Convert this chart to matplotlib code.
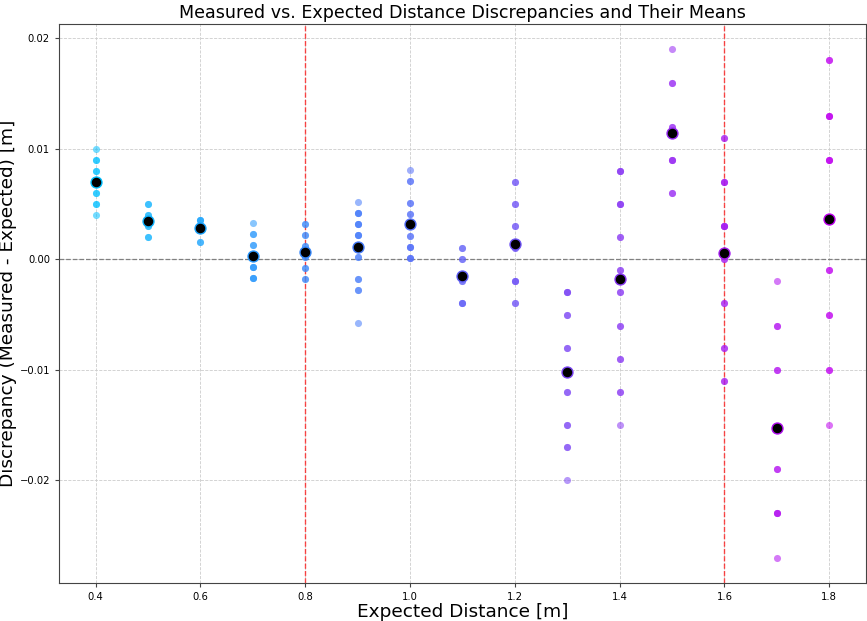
import numpy as np
import matplotlib
matplotlib.use("Agg")
import matplotlib.pyplot as plt
from matplotlib.colors import LinearSegmentedColormap

# 1: measured - expected discrepancies [m] for each expected distance
distances = [0.4, 0.5, 0.6, 0.7, 0.8, 0.9, 1.0, 1.1, 1.2, 1.3, 1.4, 1.5, 1.6, 1.7, 1.8]

d_04 = [0.010, 0.009, 0.009, 0.008, 0.008, 0.007, 0.007, 0.006, 0.006, 0.005, 0.005, 0.004]
d_05 = [0.005, 0.005, 0.004, 0.004, 0.003, 0.003, 0.002, 0.002]
d_06 = [0.0036, 0.0036, 0.0036, 0.0016, 0.0016]
d_07 = [0.0033, 0.0023, 0.0023, 0.0013, 0.0013, -0.0007, -0.0007, -0.0007, -0.0017, -0.0017, -0.0017]
d_08 = [0.0032, 0.0032, 0.0022, 0.0022, 0.0012, 0.0012, 0.0002, 0.0002, -0.0008, -0.0008, -0.0018, -0.0018]
d_09 = [0.0052, 0.0042, 0.0042, 0.0042, 0.0032, 0.0032, 0.0032, 0.0022, 0.0022, 0.0022,
        0.0002, 0.0002, -0.0018, -0.0018, -0.0028, -0.0028, -0.0058]
d_10 = [0.0081, 0.0071, 0.0071, 0.0051, 0.0051, 0.0041, 0.0041, 0.0021, 0.0021,
        0.0011, 0.0011, 0.0011, 0.0001, 0.0001, 0.0001]
d_11 = [0.001, 0.001, 0.0, 0.0, -0.002, -0.002, -0.004, -0.004, -0.004]
d_12 = [0.007, 0.007, 0.005, 0.005, 0.003, 0.003, 0.001, 0.001, -0.002, -0.002, -0.002, -0.004, -0.004]
d_13 = [-0.003, -0.003, -0.003, -0.005, -0.005, -0.008, -0.008, -0.010, -0.010, -0.012, -0.012,
        -0.015, -0.015, -0.017, -0.017, -0.020]
d_14 = [0.008, 0.008, 0.008, 0.005, 0.005, 0.005, 0.002, 0.002, -0.001, -0.001, -0.003, -0.003,
        -0.006, -0.006, -0.009, -0.009, -0.012, -0.012, -0.015]
d_15 = [0.019, 0.016, 0.016, 0.012, 0.012, 0.009, 0.009, 0.009, 0.006, 0.006]
d_16 = [0.011, 0.011, 0.007, 0.007, 0.007, 0.003, 0.003, 0.003, 0.003, 0.0, 0.0,
        -0.004, -0.004, -0.008, -0.008, -0.011, -0.011]
d_17 = [-0.002, -0.006, -0.006, -0.010, -0.010, -0.019, -0.019, -0.023, -0.023, -0.023, -0.027]
d_18 = [0.018, 0.018, 0.013, 0.013, 0.013, 0.009, 0.009, 0.009, -0.001, -0.001,
        -0.005, -0.005, -0.010, -0.010, -0.015]

discrepancies = [d_04, d_05, d_06, d_07, d_08, d_09, d_10, d_11, d_12,
                 d_13, d_14, d_15, d_16, d_17, d_18]

# reference distances marked with red lines
marked = [0.8, 1.6]

# 2: colour per distance, sky blue -> violet
cmap = LinearSegmentedColormap.from_list("blue_violet", ["#00BFFF", "#C000F0"])
colors = cmap(np.linspace(0, 1, len(distances)))

fig = plt.figure(figsize=(8.67, 6.21), dpi=100)
ax = fig.add_axes([0.068, 0.0612, 0.9308, 0.9002])

# 3: raw points and their means
for dist, vals, col in zip(distances, discrepancies, colors):
    ax.scatter([dist] * len(vals), vals, color=col, s=26, alpha=0.55, linewidths=0, zorder=3)
    ax.scatter(dist, np.mean(vals), color="black", edgecolors=col, s=62, linewidths=1, zorder=4)

ax.axhline(0, color="gray", linestyle="--", linewidth=0.9, zorder=2)
for m in marked:
    ax.axvline(m, color="red", linestyle="--", linewidth=1, alpha=0.7, zorder=2)

ax.grid(True, linestyle="--", color="#cccccc", linewidth=0.6)
ax.set_axisbelow(True)

ax.set_title("Measured vs. Expected Distance Discrepancies and Their Means", fontsize=12.6, pad=4)
ax.set_xlabel("Expected Distance [m]", fontsize=13.3, labelpad=1)
ax.set_ylabel("Discrepancy (Measured - Expected) [m]", fontsize=13.3, labelpad=2)
ax.tick_params(labelsize=7.2, length=3, color="#444444")
for sp in ax.spines.values():
    sp.set_color("#444444")

fig.savefig("out.png", dpi=100)
